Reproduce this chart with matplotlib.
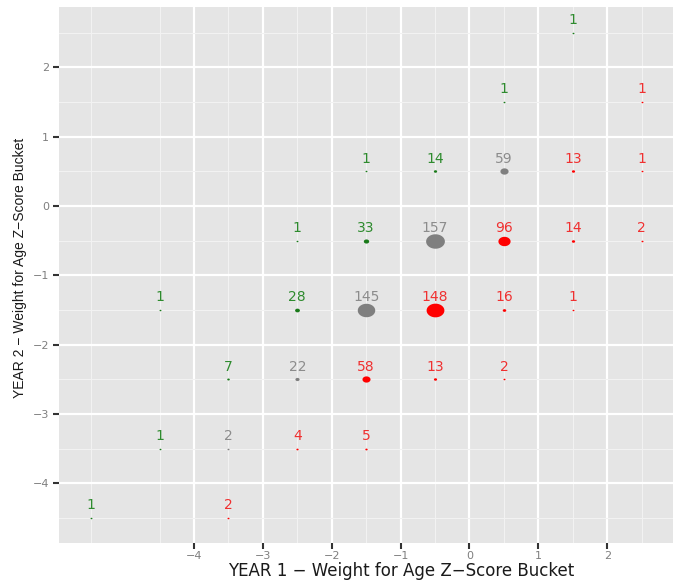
import numpy as np
import matplotlib
matplotlib.use('Agg')
import matplotlib.pyplot as plt

# year 1 bucket, year 2 bucket, count
year1 = [1.5, 0.5, 2.5, -1.5, -0.5, 0.5, 1.5, 2.5,
         -2.5, -1.5, -0.5, 0.5, 1.5, 2.5,
         -4.5, -2.5, -1.5, -0.5, 0.5, 1.5,
         -3.5, -2.5, -1.5, -0.5, 0.5,
         -4.5, -3.5, -2.5, -1.5,
         -5.5, -3.5]
year2 = [2.5, 1.5, 1.5, 0.5, 0.5, 0.5, 0.5, 0.5,
         -0.5, -0.5, -0.5, -0.5, -0.5, -0.5,
         -1.5, -1.5, -1.5, -1.5, -1.5, -1.5,
         -2.5, -2.5, -2.5, -2.5, -2.5,
         -3.5, -3.5, -3.5, -3.5,
         -4.5, -4.5]
counts = [1, 1, 1, 1, 14, 59, 13, 1,
          1, 33, 157, 96, 14, 2,
          1, 28, 145, 148, 16, 1,
          7, 22, 58, 13, 2,
          1, 2, 4, 5,
          1, 2]

x_ticks = [-4, -3, -2, -1, 0, 1, 2, 3]
y_ticks = [-4, -3, -2, -1, 0, 1, 2]

def colour(x1, x2):
    if x2 > x1:
        return '#1a7a1a', '#2e8b2e'
    if x2 < x1:
        return '#ff0000', '#f03030'
    return '#7f7f7f', '#8c8c8c'

fig = plt.figure(figsize=(6.73, 5.8), dpi=100)
ax = fig.add_axes([59 / 673, 1 - 543 / 580, 624 / 673, 536 / 580])
ax.set_facecolor('#e5e5e5')
ax.set_xlim(-5.96, 3.1)
ax.set_ylim(-4.86, 2.87)

ax.set_xticks(x_ticks)
ax.set_yticks(y_ticks)
ax.set_xticks(np.arange(-5.5, 3.0, 1.0), minor=True)
ax.set_yticks(np.arange(-4.5, 3.0, 1.0), minor=True)
ax.set_xticklabels([str(t).replace('-', '\u2212') for t in x_ticks])
ax.set_yticklabels([str(t).replace('-', '\u2212') for t in y_ticks])
ax.grid(which='major', color='white', linewidth=1.6)
ax.grid(which='minor', color='#f2f2f2', linewidth=0.8)
ax.set_axisbelow(True)
for s in ax.spines.values():
    s.set_visible(False)
ax.tick_params(which='major', length=4, width=1.5, color='#333333',
               labelcolor='#7f7f7f', labelsize=8)
ax.tick_params(axis='x', pad=2)
ax.tick_params(axis='y', pad=3)
ax.tick_params(which='minor', length=0)

# ellipse-shaped marker (the original is slightly stretched)
t = np.linspace(0, 2 * np.pi, 40)
ell = np.column_stack([1.3 * np.cos(t), np.sin(t)])

for x1, x2, n in zip(year1, year2, counts):
    pc, tc = colour(x1, x2)
    d = (1.8 + 17 * n / 157) / 100 * 72  # diameter in points
    ax.scatter([x1], [x2], s=d ** 2, marker=ell, color=pc, linewidths=0, zorder=3)
    ax.text(x1, x2 + 0.08, str(n), color=tc, fontsize=10,
            ha='center', va='bottom', zorder=4)

fig.text(401 / 673, 1 - 575.5 / 580, 'YEAR 1 \u2212 Weight for Age Z\u2212Score Bucket',
         ha='center', va='baseline', fontsize=12, color='#1a1a1a')
fig.text(20 / 673, 1 - 268 / 580, 'YEAR 2 \u2212 Weight for Age Z\u2212Score Bucket',
         ha='center', va='center', fontsize=10, color='#1a1a1a', rotation=90,
         family='Liberation Sans')

fig.savefig('out.png', dpi=100)
